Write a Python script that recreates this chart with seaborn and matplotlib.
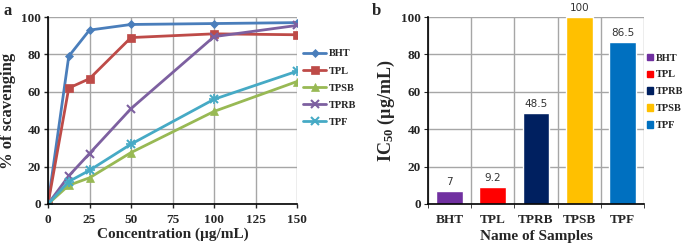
import matplotlib
matplotlib.use("Agg")
import matplotlib.pyplot as plt
import seaborn as sns
import pandas as pd
import numpy as np
from matplotlib.patches import Patch

# ---- data ----
conc = [0, 12.5, 25, 50, 100, 150]
bht = [0, 79, 93, 96, 96.5, 97]
tpl = [0, 62, 67, 89, 91, 90.5]
tpsb = [0, 10, 14, 27.5, 49.5, 65.5]
tprb = [0, 15, 27, 51, 89.5, 95.5]
tpf = [0, 12, 18, 32, 56, 71]
series_names = ["BHT", "TPL", "TPSB", "TPRB", "TPF"]

samples = ["BHT", "TPL", "TPRB", "TPSB", "TPF"]
ic50 = [7, 9.2, 48.5, 100, 86.5]
ic50_labels = ["7", "9.2", "48.5", "100", "86.5"]

line_colors = ["#4A7EBB", "#BE4B48", "#98B954", "#7D60A0", "#46AAC5"]
markers = ["D", "s", "^", "x", "x"]
bar_colors = ["#7030A0", "#FF0000", "#002060", "#FFC000", "#0070C0"]

sns.set_style("white")
plt.rcParams["font.family"] = ["Liberation Serif", "DejaVu Serif"]
plt.rcParams["mathtext.fontset"] = "custom"
plt.rcParams["mathtext.rm"] = "Liberation Serif"
plt.rcParams["mathtext.bf"] = "Liberation Serif:bold"
plt.rcParams["mathtext.it"] = "Liberation Serif:italic"

fig = plt.figure(figsize=(6.85, 2.49), dpi=100)
W, H = 685, 249
ax1 = fig.add_axes([48 / W, 1 - 204 / H, (297 - 48) / W, (204 - 17) / H])
ax2 = fig.add_axes([428 / W, 1 - 204 / H, (644 - 428) / W, (204 - 17) / H])

# ---- panel a ----
df = pd.DataFrame({"conc": conc * 5,
                   "val": bht + tpl + tpsb + tprb + tpf,
                   "series": sum([[n] * len(conc) for n in series_names], [])})
for name, col, mk in zip(series_names, line_colors, markers):
    sub = df[df.series == name]
    ms = {"D": 4.5, "s": 6, "^": 5.5, "x": 6}[mk]
    sns.lineplot(data=sub, x="conc", y="val", ax=ax1, color=col, marker=mk,
                 markersize=ms, linewidth=2, label=name,
                 markeredgecolor=col, markeredgewidth=1.5 if mk == "x" else 0.5)
    if name == "TPF":
        ax1.plot(sub.conc, sub.val, linestyle="none", marker="+", color=col,
                 markersize=7, markeredgewidth=1.2)

ax1.set_xlim(0, 150)
ax1.set_ylim(0, 100)
ax1.set_xticks(range(0, 151, 25))
ax1.set_yticks(range(0, 101, 20))
ax1.grid(True, color="#A6A6A6", linewidth=1)
ax1.set_axisbelow(True)
for s in ["top", "right"]:
    ax1.spines[s].set_visible(False)
for s in ["left", "bottom"]:
    ax1.spines[s].set_color("black")
    ax1.spines[s].set_linewidth(1.2)
ax1.tick_params(axis="both", direction="out", length=3, width=1, labelsize=9.5,
                left=True, bottom=True, pad=2)
ax1.tick_params(axis="x", pad=4)
for lab in ax1.get_xticklabels() + ax1.get_yticklabels():
    lab.set_fontweight("bold")
ax1.set_xlabel("Concentration (µg/mL)", fontsize=11, fontweight="bold", labelpad=1)
ax1.set_ylabel("% of scavenging", fontsize=12, fontweight="bold", labelpad=4)
leg1 = ax1.legend(loc="center left", bbox_to_anchor=(1.0, 0.62), frameon=False,
                  prop={"weight": "bold", "size": 7.5}, handlelength=2.2,
                  handletextpad=0.3, labelspacing=0.75, borderaxespad=0.2)

# ---- panel b ----
dfb = pd.DataFrame({"sample": samples, "ic50": ic50})
sns.barplot(data=dfb, x="sample", y="ic50", hue="sample", palette=bar_colors,
            ax=ax2, width=0.62, legend=False, saturation=1)
ax2.set_xlim(-0.5, 4.5)
ax2.set_ylim(0, 100)
ax2.set_yticks(range(0, 101, 20))
ax2.set_xticks([-0.5, 0.5, 1.5, 2.5, 3.5, 4.5], minor=True)
ax2.grid(True, axis="y", color="#A6A6A6", linewidth=1)
ax2.grid(True, axis="x", which="minor", color="#A6A6A6", linewidth=1)
ax2.grid(False, axis="x", which="major")
ax2.set_axisbelow(True)
for s in ["top", "right"]:
    ax2.spines[s].set_visible(False)
for s in ["left", "bottom"]:
    ax2.spines[s].set_color("black")
    ax2.spines[s].set_linewidth(1.2)
ax2.tick_params(axis="y", direction="out", length=3, labelsize=9.5, left=True, pad=2)
ax2.tick_params(axis="x", which="major", length=0, labelsize=9.5, pad=7)
ax2.tick_params(axis="x", which="minor", direction="out", length=3, bottom=True)
for lab in ax2.get_xticklabels() + ax2.get_yticklabels():
    lab.set_fontweight("bold")
ax2.set_xlabel("Name of Samples", fontsize=11, fontweight="bold", labelpad=3)
ax2.set_ylabel("IC$_{\\mathbf{50}}$ (µg/mL)", fontsize=13, fontweight="bold", labelpad=3)
for p, t in zip(ax2.patches, ic50_labels):
    ax2.annotate(t, (p.get_x() + p.get_width() / 2, p.get_height()),
                 xytext=(0, 3), textcoords="offset points", ha="center",
                 va="bottom", fontsize=7.5, family="DejaVu Sans", color="#333333",
                 annotation_clip=False)
handles = [Patch(color=c, label=l) for c, l in zip(bar_colors, samples)]
ax2.legend(handles=handles, loc="center left", bbox_to_anchor=(0.99, 0.6),
           frameon=False, prop={"weight": "bold", "size": 7.5}, handlelength=0.6,
           handleheight=0.6, handletextpad=0.25, labelspacing=0.75, borderaxespad=0.1)

fig.text(4 / W, 1 - 11 / H, "a", fontsize=12, fontweight="bold", va="center")
fig.text(372 / W, 1 - 11 / H, "b", fontsize=12, fontweight="bold", va="center")

fig.savefig("out.png", dpi=100)
